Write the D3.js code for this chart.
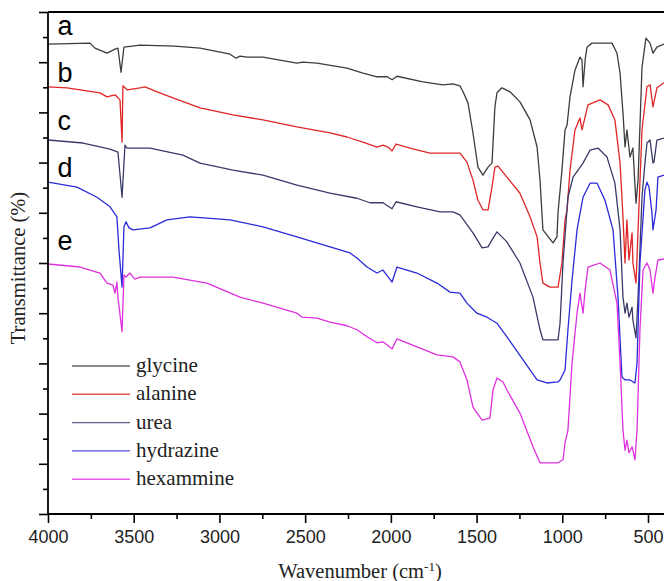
<!DOCTYPE html>
<html><head><meta charset="utf-8">
<script src="https://cdn.jsdelivr.net/npm/d3@7"></script>
<style>
html,body{margin:0;padding:0;background:#fff;}
svg{display:block;}
.serif{font-family:"Liberation Serif","Times New Roman",Times,"DejaVu Serif",serif;}
.sans{font-family:"Liberation Sans",Arial,Helvetica,sans-serif;}
</style></head>
<body>
<svg id="chart" width="664" height="581"></svg>
<script>
// ---- data (wavenumber cm-1, transmittance in arbitrary offset %) ----
const seriesNames = ["glycine","alanine","urea","hydrazine","hexammine"];
const curveLabels = ["a","b","c","d","e"];
const curveLabelT = [95.4, 86.1, 76.5, 67.1, 52.6];
const xMajorTicks = [4000,3500,3000,2500,2000,1500,1000,500];
const xMinorTicks = [3750,3250,2750,2250,1750,1250,750];
const yMajorTicks = [0,10,20,30,40,50,60,70,80,90,100];
const yMinorTicks = [5,15,25,35,45,55,65,75,85,95];

const glycine = [[4000,93.6],[3755,93.8],[3726,92.8],[3656,91.8],[3609,92.6],[3592,92.8],[3574,88.0],[3557,93.0],[3463,93.4],[3259,93.2],[3113,92.8],[2938,91.6],[2903,90.8],[2880,91.2],[2839,91.0],[2746,91.0],[2548,89.8],[2513,90.0],[2431,89.8],[2256,88.8],[2163,87.8],[2081,87.1],[2022,87.1],[1993,86.5],[1964,87.2],[1813,86.1],[1696,85.5],[1638,85.7],[1597,85.3],[1579,84.1],[1550,81.9],[1521,75.9],[1492,69.1],[1463,67.5],[1433,69.1],[1410,69.9],[1393,81.1],[1381,83.9],[1352,84.9],[1305,84.1],[1247,82.1],[1188,78.5],[1147,73.1],[1130,66.5],[1113,56.6],[1054,54.0],[1031,55.2],[1025,60.0],[1002,68.5],[984,76.5],[972,77.5],[955,83.1],[926,88.4],[897,91.0],[885,90.4],[879,85.1],[867,90.4],[856,93.0],[827,93.8],[762,93.8],[710,93.8],[681,91.8],[663,87.8],[646,79.9],[634,73.1],[623,76.5],[605,71.1],[588,72.9],[570,61.9],[558,66.5],[535,89.0],[512,94.8],[488,93.8],[471,91.8],[448,93.0],[407,93.6]];

const alanine = [[4000,85.1],[3889,84.9],[3697,83.9],[3656,83.1],[3609,83.5],[3580,82.5],[3568,74.1],[3563,85.3],[3539,84.5],[3463,84.9],[3434,85.1],[3364,84.1],[3271,82.9],[3113,80.9],[2921,79.5],[2746,78.5],[2548,77.1],[2355,75.9],[2256,75.1],[2163,74.1],[2081,73.1],[2046,73.5],[2017,73.1],[1993,72.3],[1970,73.7],[1888,72.9],[1772,71.9],[1713,71.9],[1597,71.9],[1556,70.1],[1521,66.5],[1492,62.5],[1463,60.6],[1433,60.6],[1410,65.1],[1393,69.1],[1375,69.3],[1323,67.1],[1247,63.9],[1188,59.2],[1147,55.2],[1130,50.0],[1113,46.0],[1072,45.2],[1025,45.2],[1002,50.0],[984,58.6],[972,60.6],[955,68.5],[926,76.5],[897,78.9],[885,76.5],[867,79.1],[850,81.5],[780,82.5],[733,81.5],[693,78.5],[663,69.9],[646,59.2],[634,50.0],[623,58.6],[611,50.6],[593,56.0],[588,50.0],[570,46.0],[558,56.6],[535,76.5],[506,85.1],[488,85.5],[471,81.1],[448,84.9],[407,85.9]];

const urea = [[4000,74.5],[3796,73.9],[3638,72.7],[3592,72.1],[3568,63.1],[3551,73.5],[3539,72.9],[3405,72.9],[3213,71.5],[3113,69.9],[2921,68.5],[2746,67.5],[2548,65.5],[2355,63.9],[2198,62.9],[2122,62.0],[2046,62.0],[1993,60.8],[1970,62.2],[1848,61.2],[1713,60.2],[1638,60.2],[1597,59.6],[1521,56.0],[1468,53.0],[1433,53.2],[1410,54.6],[1381,56.2],[1323,54.2],[1247,50.0],[1171,43.2],[1130,36.7],[1113,34.7],[1025,34.7],[1013,38.0],[996,50.0],[967,63.1],[937,67.1],[908,68.5],[879,69.9],[838,72.5],[792,72.9],[739,71.1],[693,65.9],[663,56.6],[646,43.2],[634,40.0],[623,42.0],[611,39.2],[593,41.2],[588,38.6],[570,35.1],[558,43.2],[535,63.1],[518,69.9],[506,73.9],[488,74.5],[471,69.9],[465,70.1],[448,74.5],[407,74.9]];

const hydrazine = [[4000,66.1],[3831,65.1],[3714,63.1],[3638,61.2],[3598,59.2],[3586,52.6],[3568,45.2],[3557,57.2],[3545,58.2],[3527,57.0],[3504,56.6],[3405,57.0],[3306,58.6],[3172,59.2],[3014,58.8],[2938,58.6],[2746,57.2],[2548,55.2],[2355,53.2],[2238,52.0],[2198,51.0],[2139,49.2],[2081,48.0],[2046,48.6],[1993,46.2],[1964,49.2],[1848,48.0],[1731,46.0],[1655,44.2],[1597,44.0],[1556,42.0],[1498,40.0],[1439,39.2],[1381,38.0],[1323,35.3],[1229,30.7],[1147,26.7],[1089,26.1],[1025,26.3],[1013,26.7],[984,28.7],[967,36.7],[943,46.6],[914,56.6],[879,63.1],[838,65.9],[797,65.9],[751,62.5],[704,56.6],[675,43.2],[652,27.3],[634,26.7],[605,26.7],[576,26.1],[564,30.1],[547,50.0],[518,64.5],[506,66.1],[494,65.1],[477,60.0],[471,56.6],[453,60.6],[442,67.1],[407,67.5]];

const hexammine = [[4000,49.8],[3813,49.2],[3697,48.0],[3656,46.0],[3621,45.6],[3609,44.0],[3598,46.2],[3592,43.2],[3568,36.3],[3557,47.6],[3545,47.2],[3522,48.0],[3493,46.8],[3463,47.2],[3271,47.2],[3073,46.0],[2880,43.2],[2746,42.0],[2548,40.0],[2518,39.2],[2431,39.0],[2355,38.2],[2256,37.5],[2198,36.7],[2139,35.3],[2081,34.1],[2046,34.3],[1993,32.9],[1964,34.9],[1848,33.3],[1731,31.7],[1638,31.3],[1597,30.3],[1556,26.7],[1521,21.3],[1468,18.7],[1422,19.1],[1404,24.7],[1381,27.1],[1346,26.3],[1323,24.7],[1247,20.1],[1171,13.4],[1130,10.2],[1025,10.2],[996,10.8],[984,14.2],[967,16.7],[943,30.1],[914,40.0],[897,44.0],[879,40.0],[867,44.6],[850,49.2],[780,50.0],[722,48.6],[681,42.0],[663,30.1],[646,16.7],[634,12.7],[623,14.7],[611,12.2],[593,13.4],[576,10.8],[564,16.7],[547,36.7],[529,48.6],[506,50.0],[488,48.6],[471,44.0],[459,47.2],[442,50.6],[407,50.8]];

const seriesData = [glycine, alanine, urea, hydrazine, hexammine];
const seriesColors = ["#3c3c3c","#e02626","#3a3a6a","#2a2ad8","#df30df"];

// ---- layout ----
const svg = d3.select("#chart");
const L = 48, R = 664, T = 12, B = 514;
const x = d3.scaleLinear().domain([4000, 406.7]).range([L, R]);
const y = d3.scaleLinear().domain([0, 100]).range([B, T]);

svg.append("defs").append("clipPath").attr("id","clip")
  .append("rect").attr("x",L).attr("y",T).attr("width",R-L).attr("height",B-T);

// curves
const line = d3.line().x(d => x(d[0])).y(d => y(d[1])).curve(d3.curveLinear);
svg.append("g").attr("clip-path","url(#clip)")
  .selectAll("path").data(seriesData).join("path")
  .attr("d", line).attr("fill","none")
  .attr("stroke",(d,i)=>seriesColors[i]).attr("stroke-width",1.3)
  .attr("stroke-linejoin","round");

// x axis
const gx = svg.append("g").attr("transform",`translate(0,${B})`)
  .call(d3.axisBottom(x).tickValues(xMajorTicks).tickSize(9).tickPadding(7).tickFormat(d3.format("d")));
svg.append("g").attr("transform",`translate(0,${B})`)
  .call(d3.axisBottom(x).tickValues(xMinorTicks).tickSize(5).tickFormat(""))
  .select(".domain").remove();
gx.select(".domain").attr("d",`M${L},0H${R}`);
gx.attr("font-family",null).attr("font-size",null);
gx.selectAll("text").attr("class","sans").style("font-size","18px").attr("fill","#222");

// y axis
const gy = svg.append("g").attr("transform",`translate(${L},0)`)
  .call(d3.axisLeft(y).tickValues(yMajorTicks).tickSize(9).tickFormat(""));
svg.append("g").attr("transform",`translate(${L},0)`)
  .call(d3.axisLeft(y).tickValues(yMinorTicks).tickSize(5).tickFormat(""))
  .select(".domain").remove();
gy.select(".domain").attr("d",`M0,${B}V${T}`);

// top frame line
svg.append("line").attr("x1",L).attr("x2",R).attr("y1",T).attr("y2",T)
  .attr("stroke","#000").attr("stroke-width",1.8);

svg.selectAll(".tick line").attr("stroke","#000").attr("stroke-width",1.6);
svg.selectAll(".domain").attr("stroke","#000").attr("stroke-width",1.8);

// curve letters
svg.append("g").selectAll("text").data(curveLabels).join("text")
  .attr("class","sans")
  .attr("x", x(3945)).attr("y",(d,i)=>y(curveLabelT[i]))
  .style("font-size","27px").attr("fill","#000")
  .text(d=>d);

// axis titles
svg.append("text").attr("class","serif").attr("x",360).attr("y",578).attr("text-anchor","middle")
  .style("font-size","20.5px").attr("fill","#222")
  .html('Wavenumber (cm<tspan style="font-size:13px" dy="-7">-1</tspan><tspan dy="7">)</tspan>');
svg.append("text").attr("class","serif").attr("transform","translate(25,268) rotate(-90)")
  .attr("text-anchor","middle").style("font-size","20.5px").attr("fill","#222")
  .text("Transmittance (%)");

// legend
const lg = svg.append("g");
const legY0 = 366, legDY = 28.3;
seriesNames.forEach((name,i)=>{
  const yy = legY0 + i*legDY;
  lg.append("line").attr("x1",72).attr("x2",130).attr("y1",yy).attr("y2",yy)
    .attr("stroke",seriesColors[i]).attr("stroke-width",1.4).attr("stroke-opacity",0.8);
  lg.append("text").attr("class","serif").attr("x",136).attr("y",yy+6)
    .style("font-size","21px").attr("fill","#222").text(name);
});
</script>
</body></html>
